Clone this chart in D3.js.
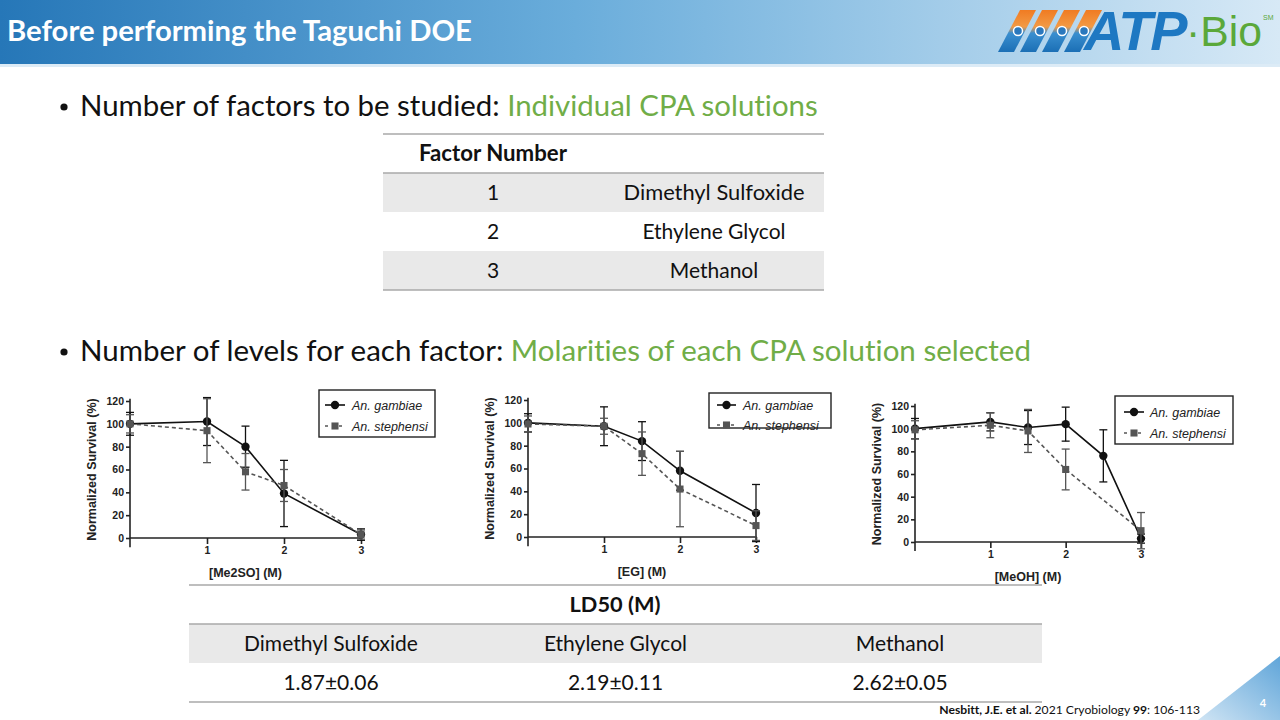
<!DOCTYPE html>
<html>
<head>
<meta charset="utf-8">
<script src="https://cdn.jsdelivr.net/npm/d3@7"></script>
<style>
  html, body { margin: 0; padding: 0; background: #fff; }
  svg { display: block; }
  text { font-variant-ligatures: none; }
</style>
</head>
<body>
<script>
var yTicks = [0, 20, 40, 60, 80, 100, 120];
var xTicks = [1, 2, 3];

var me2soX = [0, 1, 1.5, 2, 3];
var me2soGambiae = [100, 102, 80, 39, 3];
var me2soGambiaeErr = [10, 21, 18, 29, 5];
var me2soStephensi = [100, 94, 58, 46, 3];
var me2soStephensiErr = [8, 28, 16, 14, 4];

var egX = [0, 1, 1.5, 2, 3];
var egGambiae = [100, 97, 84, 58, 21];
var egGambiaeErr = [8, 17, 17, 17, 25];
var egStephensi = [99, 97, 73, 42, 10];
var egStephensiErr = [7, 7, 19, 33, 13];

var meohGambiaeX = [0, 1, 1.5, 2, 2.5, 3];
var meohGambiae = [100, 106, 101, 104, 76, 3];
var meohGambiaeErr = [9, 8, 15, 15, 23, 4];
var meohStephensiX = [0, 1, 1.5, 2, 3];
var meohStephensi = [99, 103, 98, 64, 10];
var meohStephensiErr = [8, 11, 19, 18, 16];

var factorNumbers = [1, 2, 3];
var factorNames = ["Dimethyl Sulfoxide", "Ethylene Glycol", "Methanol"];
var ld50Names = ["Dimethyl Sulfoxide", "Ethylene Glycol", "Methanol"];
var ld50Values = ["1.87\u00b10.06", "2.19\u00b10.11", "2.62\u00b10.05"];

var slideFont = "Lato, 'Open Sans', sans-serif";
var chartFont = "'Liberation Sans', Arial, sans-serif";
var green = "#70ad47";

var svg = d3.select("body").append("svg").attr("width", 1280).attr("height", 720);
var defs = svg.append("defs");

function fit(text, w) {
  var cur = text.node().getComputedTextLength();
  text.attr("font-size", +text.attr("font-size") * w / cur);
}

// title bar
var barGrad = defs.append("linearGradient").attr("id", "bar");
barGrad.append("stop").attr("offset", "0%").attr("stop-color", "#2677b8");
barGrad.append("stop").attr("offset", "45%").attr("stop-color", "#6aaddb");
barGrad.append("stop").attr("offset", "100%").attr("stop-color", "#d7e9f6");
svg.append("rect").attr("width", 1280).attr("height", 66).attr("fill", "url(#bar)");
svg.append("rect").attr("y", 64).attr("width", 1280).attr("height", 3).attr("fill", "#dcebf6");

var title = svg.append("text")
    .attr("x", 7).attr("y", 41)
    .attr("font-family", slideFont).attr("font-weight", "bold").attr("font-size", 27)
    .attr("fill", "#fff")
    .text("Before performing the Taguchi DOE");
fit(title, 465);

// logo
var stripeGrad = defs.append("linearGradient").attr("id", "stripe")
    .attr("x1", 0).attr("y1", 0).attr("x2", 0).attr("y2", 1);
stripeGrad.append("stop").attr("offset", "0%").attr("stop-color", "#f07b22");
stripeGrad.append("stop").attr("offset", "40%").attr("stop-color", "#f29a45");
stripeGrad.append("stop").attr("offset", "55%").attr("stop-color", "#3a8fd0");
stripeGrad.append("stop").attr("offset", "100%").attr("stop-color", "#1b6fb5");
var logo = svg.append("g");
d3.range(4).forEach(function(i) {
  var x0 = 998 + i * 22;
  logo.append("path")
      .attr("d", "M" + (x0 + 22) + ",10L" + (x0 + 38) + ",10L" + (x0 + 16) + ",52L" + x0 + ",52Z")
      .attr("fill", "url(#stripe)");
  logo.append("circle").attr("cx", x0 + 20).attr("cy", 31).attr("r", 4.5)
      .attr("fill", "#2a78bd").attr("stroke", "#fff").attr("stroke-width", 1.5);
});
var atp = logo.append("text").attr("x", 1084).attr("y", 50)
    .attr("font-family", "'Liberation Sans', Arial, sans-serif").attr("font-weight", "bold")
    .attr("font-style", "italic").attr("font-size", 44).attr("fill", "#1e78c2")
    .attr("letter-spacing", -2).text("ATP");
fit(atp, 100);
var bio = logo.append("text").attr("x", 1186).attr("y", 46)
    .attr("font-family", "'Liberation Sans', Arial, sans-serif").attr("font-size", 36)
    .attr("fill", "#5aa83a").text("\u00b7Bio");
fit(bio, 76);
logo.append("text").attr("x", 1263).attr("y", 20)
    .attr("font-family", "'Liberation Sans', Arial, sans-serif").attr("font-size", 7)
    .attr("fill", "#5aa83a").text("SM");

// bullets
function bullet(y, black, colored, w) {
  svg.append("circle").attr("cx", 64).attr("cy", y - 9).attr("r", 3.6).attr("fill", "#111");
  var t = svg.append("text").attr("x", 80).attr("y", y)
      .attr("font-family", slideFont).attr("font-size", 27).attr("fill", "#111");
  t.append("tspan").text(black);
  t.append("tspan").attr("fill", green).text(colored);
  fit(t, w);
}
bullet(116, "Number of factors to be studied: ", "Individual CPA solutions", 738);
bullet(361, "Number of levels for each factor: ", "Molarities of each CPA solution selected", 951);

// factor table
var rowY = d3.scaleBand().domain(factorNumbers).range([173, 290]);
var colX = [493, 714];
var tbl = svg.append("g");
tbl.selectAll("rect.row").data(factorNumbers.filter(function(d, i) { return i % 2 === 0; }))
  .enter().append("rect").attr("class", "row")
    .attr("x", 383).attr("width", 441)
    .attr("y", function(d) { return rowY(d); }).attr("height", rowY.bandwidth())
    .attr("fill", "#e9e9e9");
[134, 173, 290].forEach(function(y) {
  tbl.append("line").attr("x1", 383).attr("x2", 824).attr("y1", y).attr("y2", y)
      .attr("stroke", "#a8a8a8").attr("stroke-width", 1.5);
});
var hdr = tbl.append("text").attr("x", colX[0]).attr("y", 161).attr("text-anchor", "middle")
    .attr("font-family", slideFont).attr("font-weight", "bold").attr("font-size", 21)
    .attr("fill", "#111").text("Factor Number");
fit(hdr, 148);
tbl.selectAll("text.num").data(factorNumbers).enter().append("text").attr("class", "num")
    .attr("x", colX[0]).attr("y", function(d) { return rowY(d) + rowY.bandwidth() / 2 + 7; })
    .attr("text-anchor", "middle").attr("font-family", slideFont).attr("font-size", 21)
    .attr("fill", "#111").text(function(d) { return d; });
tbl.selectAll("text.name").data(factorNames).enter().append("text").attr("class", "name")
    .attr("x", colX[1]).attr("y", function(d, i) { return rowY(factorNumbers[i]) + rowY.bandwidth() / 2 + 7; })
    .attr("text-anchor", "middle").attr("font-family", slideFont).attr("font-size", 21)
    .attr("fill", "#111").text(function(d) { return d; })
    .each(function(d) { if (d === "Dimethyl Sulfoxide") fit(d3.select(this), 181); });

// LD50 table
var ldX = d3.scalePoint().domain(ld50Names).range([331, 900]);
var ld = svg.append("g");
ld.append("rect").attr("x", 189).attr("y", 624).attr("width", 853).attr("height", 39).attr("fill", "#e9e9e9");
[585, 624, 702].forEach(function(y) {
  ld.append("line").attr("x1", 189).attr("x2", 1042).attr("y1", y).attr("y2", y)
      .attr("stroke", "#a8a8a8").attr("stroke-width", 1.5);
});
var ldh = ld.append("text").attr("x", 615).attr("y", 612).attr("text-anchor", "middle")
    .attr("font-family", slideFont).attr("font-weight", "bold").attr("font-size", 21)
    .attr("fill", "#111").text("LD50 (M)");
fit(ldh, 91);
ld.selectAll("text.n").data(ld50Names).enter().append("text").attr("class", "n")
    .attr("x", function(d) { return ldX(d); }).attr("y", 651).attr("text-anchor", "middle")
    .attr("font-family", slideFont).attr("font-size", 21).attr("fill", "#111")
    .text(function(d) { return d; });
ld.selectAll("text.v").data(ld50Values).enter().append("text").attr("class", "v")
    .attr("x", function(d, i) { return ldX(ld50Names[i]); }).attr("y", 690).attr("text-anchor", "middle")
    .attr("font-family", slideFont).attr("font-size", 21).attr("fill", "#111")
    .text(function(d) { return d; });

// charts
function drawChart(c) {
  var x = d3.scaleLinear().domain([0, 3]).range([c.left, c.left + c.w]);
  var y = d3.scaleLinear().domain([0, 120]).range([c.bottom, c.bottom - c.h]);
  var g = svg.append("g");

  var ya = g.append("g").attr("transform", "translate(" + c.left + ",0)")
      .call(d3.axisLeft(y).tickValues(yTicks).tickSize(4).tickPadding(2).tickSizeOuter(0));
  ya.select(".domain").attr("d", "M0," + y(-8) + "V" + y(122));
  var xa = g.append("g").attr("transform", "translate(0," + c.bottom + ")")
      .call(d3.axisBottom(x).tickValues(xTicks).tickFormat(d3.format("d"))
        .tickSize(6).tickPadding(3).tickSizeOuter(0));
  xa.select(".domain").attr("d", "M" + x(0) + ",0H" + (x(3) + 1));
  g.selectAll(".tick text").attr("font-family", chartFont).attr("font-size", 10.5)
      .attr("font-weight", "bold").attr("fill", "#222");
  g.selectAll(".domain, .tick line").attr("stroke", "#222").attr("stroke-width", 1.6);

  g.append("text").attr("x", (x(0) + x(3)) / 2).attr("y", c.bottom + 39)
      .attr("text-anchor", "middle").attr("font-family", chartFont).attr("font-size", 12.5)
      .attr("font-weight", "bold").attr("fill", "#222").text(c.xTitle);
  g.append("text")
      .attr("transform", "translate(" + (c.left - 34) + "," + y(60) + ") rotate(-90)")
      .attr("text-anchor", "middle").attr("font-family", chartFont).attr("font-size", 12.5)
      .attr("font-weight", "bold").attr("fill", "#222").text("Normalized Survival (%)");

  c.series.forEach(function(s) {
    var pts = s.x.map(function(v, i) { return { x: v, y: s.y[i], e: s.err[i] }; });
    var eb = g.append("g").attr("stroke", s.color).attr("stroke-width", 1.3);
    pts.forEach(function(p) {
      eb.append("line").attr("x1", x(p.x)).attr("x2", x(p.x)).attr("y1", y(p.y - p.e)).attr("y2", y(p.y + p.e));
      [p.y - p.e, p.y + p.e].forEach(function(v) {
        eb.append("line").attr("x1", x(p.x) - 4).attr("x2", x(p.x) + 4).attr("y1", y(v)).attr("y2", y(v));
      });
    });
    g.append("path").datum(pts)
        .attr("d", d3.line().x(function(p) { return x(p.x); }).y(function(p) { return y(p.y); }))
        .attr("fill", "none").attr("stroke", s.color).attr("stroke-width", 1.6)
        .attr("stroke-dasharray", s.dash);
    g.selectAll(null).data(pts).enter().append("path")
        .attr("transform", function(p) { return "translate(" + x(p.x) + "," + y(p.y) + ")"; })
        .attr("d", d3.symbol().type(s.shape).size(s.size))
        .attr("fill", s.color);
  });

  var L = c.legend;
  var lg = g.append("g").attr("transform", "translate(" + L.x + "," + L.y + ")");
  lg.append("rect").attr("width", L.w).attr("height", L.h).attr("fill", "#fff")
      .attr("stroke", "#222").attr("stroke-width", 1.4);
  c.series.forEach(function(s, i) {
    var ry = L.rows[i];
    lg.append("line").attr("x1", L.s0).attr("x2", L.s1).attr("y1", ry).attr("y2", ry)
        .attr("stroke", s.color).attr("stroke-width", 1.6).attr("stroke-dasharray", s.dash ? "3,4" : null);
    lg.append("path").attr("transform", "translate(" + (L.s0 + L.s1) / 2 + "," + ry + ")")
        .attr("d", d3.symbol().type(s.shape).size(s.size)).attr("fill", s.color);
    lg.append("text").attr("x", L.tx).attr("y", ry + 4.5).attr("font-family", chartFont)
        .attr("font-size", 12.5).attr("font-style", "italic").attr("fill", "#222").text(s.name);
  });
}

function series(xs, gam, gamErr, steX, ste, steErr) {
  return [
    { name: "An. gambiae", x: xs, y: gam, err: gamErr, color: "#111", dash: null, shape: d3.symbolCircle, size: 55 },
    { name: "An. stephensi", x: steX, y: ste, err: steErr, color: "#555", dash: "4,3", shape: d3.symbolSquare, size: 50 }
  ];
}

drawChart({
  left: 130, bottom: 538, w: 231, h: 137, xTitle: "[Me2SO] (M)",
  series: series(me2soX, me2soGambiae, me2soGambiaeErr, me2soX, me2soStephensi, me2soStephensiErr),
  legend: { x: 319, y: 390, w: 116, h: 47, rows: [15, 36], s0: 6, s1: 26, tx: 33 }
});
drawChart({
  left: 528, bottom: 537, w: 228, h: 137, xTitle: "[EG] (M)",
  series: series(egX, egGambiae, egGambiaeErr, egX, egStephensi, egStephensiErr),
  legend: { x: 709, y: 393, w: 122, h: 35, rows: [12, 32], s0: 8, s1: 27, tx: 34 }
});
drawChart({
  left: 915, bottom: 542, w: 226, h: 136, xTitle: "[MeOH] (M)",
  series: series(meohGambiaeX, meohGambiae, meohGambiaeErr, meohStephensiX, meohStephensi, meohStephensiErr),
  legend: { x: 1115, y: 396, w: 118, h: 48, rows: [16, 37], s0: 9, s1: 29, tx: 35 }
});

// citation
var cite = svg.append("text").attr("x", 1200).attr("y", 714).attr("text-anchor", "end")
    .attr("font-family", slideFont).attr("font-size", 12).attr("fill", "#111");
cite.append("tspan").attr("font-weight", "bold").text("Nesbitt, J.E. et al. ");
cite.append("tspan").text("2021 Cryobiology ");
cite.append("tspan").attr("font-weight", "bold").text("99");
cite.append("tspan").text(": 106-113");
fit(cite, 261);

// corner triangle and page number
var triGrad = defs.append("linearGradient").attr("id", "tri")
    .attr("x1", 0).attr("y1", 1).attr("x2", 1).attr("y2", 0);
triGrad.append("stop").attr("offset", "0%").attr("stop-color", "#cfe4f4");
triGrad.append("stop").attr("offset", "100%").attr("stop-color", "#5fa5d9");
svg.append("path").attr("d", "M1280,656L1280,720L1198,720Z").attr("fill", "url(#tri)");
svg.append("text").attr("x", 1263).attr("y", 707).attr("text-anchor", "middle")
    .attr("font-family", slideFont).attr("font-weight", "bold").attr("font-size", 11)
    .attr("fill", "#fff").text("4");
</script>
</body>
</html>
